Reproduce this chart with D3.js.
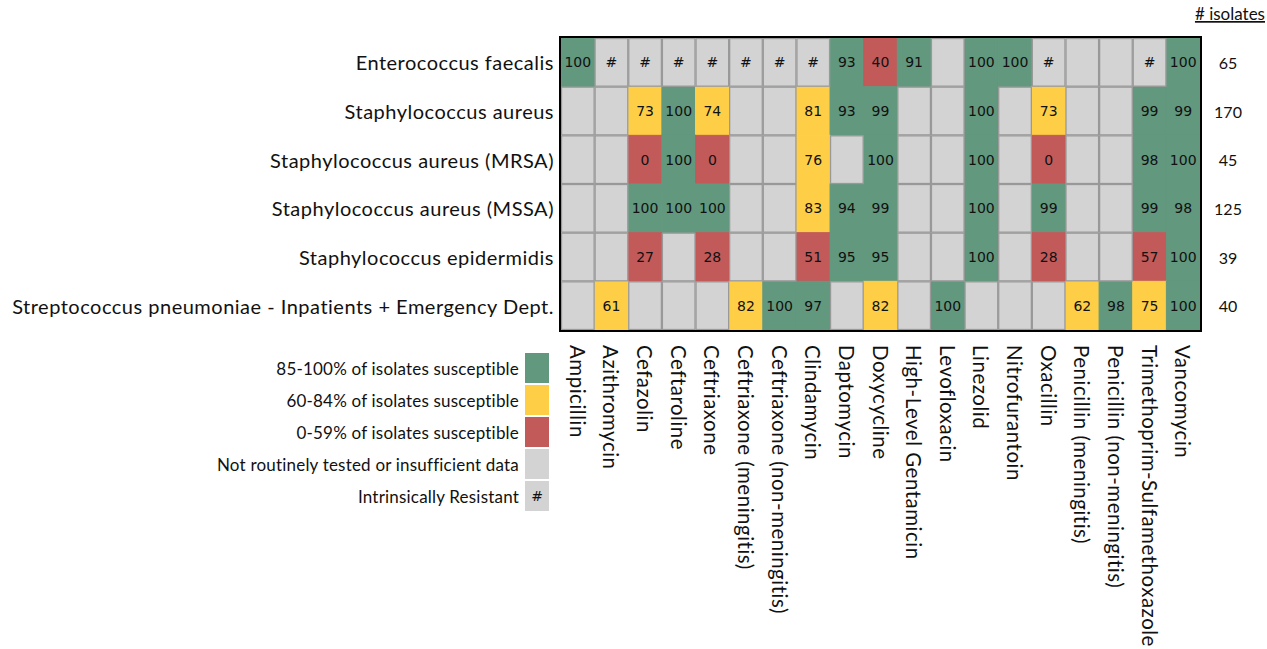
<!DOCTYPE html>
<html>
<head>
<meta charset="utf-8">
<script src="https://cdn.jsdelivr.net/npm/d3@7"></script>
<style>
  body { margin: 0; background: #fff; }
  text { font-family: Lato, "Noto Sans", sans-serif; fill: #111; }
  .cellText { font-family: "DejaVu Sans", sans-serif; font-size: 14px; fill: #111; letter-spacing: 0; }
</style>
</head>
<body>
<div id="chart"></div>
<script>
const organisms = [
    'Enterococcus faecalis',
    'Staphylococcus aureus',
    'Staphylococcus aureus (MRSA)',
    'Staphylococcus aureus (MSSA)',
    'Staphylococcus epidermidis',
    'Streptococcus pneumoniae - Inpatients + Emergency Dept.'
]

const antibiotics = [
    'Ampicillin', 'Azithromycin', 'Cefazolin', 'Ceftaroline', 'Ceftriaxone',
    'Ceftriaxone (meningitis)', 'Ceftriaxone (non-meningitis)', 'Clindamycin',
    'Daptomycin', 'Doxycycline', 'High-Level Gentamicin', 'Levofloxacin',
    'Linezolid', 'Nitrofurantoin', 'Oxacillin', 'Penicillin (meningitis)',
    'Penicillin (non-meningitis)', 'Trimethoprim-Sulfamethoxazole', 'Vancomycin'
]

const isolates = [65, 170, 45, 125, 39, 40]

// '#' = intrinsically resistant, null = not tested
const susceptibility = [
    [100, '#', '#', '#', '#', '#', '#', '#', 93, 40, 91, null, 100, 100, '#', null, null, '#', 100],
    [null, null, 73, 100, 74, null, null, 81, 93, 99, null, null, 100, null, 73, null, null, 99, 99],
    [null, null, 0, 100, 0, null, null, 76, null, 100, null, null, 100, null, 0, null, null, 98, 100],
    [null, null, 100, 100, 100, null, null, 83, 94, 99, null, null, 100, null, 99, null, null, 99, 98],
    [null, null, 27, null, 28, null, null, 51, 95, 95, null, null, 100, null, 28, null, null, 57, 100],
    [null, 61, null, null, null, 82, 100, 97, null, 82, null, 100, null, null, null, 62, 98, 75, 100]
]

const legendLabels = [
    '85-100% of isolates susceptible',
    '60-84% of isolates susceptible',
    '0-59% of isolates susceptible',
    'Not routinely tested or insufficient data',
    'Intrinsically Resistant'
]

const green = '#62987e', yellow = '#fecf46', red = '#c25a5a', grey = '#d3d3d3';
const legendColors = [green, yellow, red, grey, grey]

function cellColor(v) {
    if (v === null || v === '#') return grey;
    if (v >= 85) return green;
    if (v >= 60) return yellow;
    return red;
}

var svgwidth = 1267;
var svgheight = 649;

var svg = d3.select('#chart')
    .append('svg')
    .attr('width', svgwidth)
    .attr('height', svgheight)

var xscale = d3.scaleBand()
    .domain(antibiotics)
    .range([561, 1200]);

var yscale = d3.scaleBand()
    .domain(organisms)
    .range([38, 330]);

const cells = [];
organisms.forEach((org, i) => {
    antibiotics.forEach((ab, j) => {
        cells.push({ org: org, ab: ab, value: susceptibility[i][j] })
    })
})

const tested = cells.filter(d => d.value !== null && d.value !== '#');
const untested = cells.filter(d => d.value === null || d.value === '#');

// coloured cells first, grey ones on top so their borders stay visible
svg.append('g').selectAll('rect')
    .data(tested)
    .join('rect')
    .attr('x', d => xscale(d.ab))
    .attr('y', d => yscale(d.org))
    .attr('width', xscale.bandwidth())
    .attr('height', yscale.bandwidth())
    .attr('fill', d => cellColor(d.value))
    .attr('stroke', d => cellColor(d.value))
    .attr('stroke-width', 1);

svg.append('g').selectAll('rect')
    .data(untested)
    .join('rect')
    .attr('x', d => xscale(d.ab) + 0.5)
    .attr('y', d => yscale(d.org) + 0.5)
    .attr('width', xscale.bandwidth() - 1)
    .attr('height', yscale.bandwidth() - 1)
    .attr('fill', grey)
    .attr('stroke', '#999')
    .attr('stroke-width', 1.3);

svg.append('g').selectAll('text')
    .data(cells.filter(d => d.value !== null))
    .join('text')
    .attr('class', 'cellText')
    .attr('x', d => xscale(d.ab) + xscale.bandwidth() / 2)
    .attr('y', d => yscale(d.org) + yscale.bandwidth() / 2)
    .attr('text-anchor', 'middle')
    .attr('dominant-baseline', 'central')
    .text(d => d.value);

// outer frame
svg.append('rect')
    .attr('x', 560)
    .attr('y', 37)
    .attr('width', 641)
    .attr('height', 294)
    .attr('fill', 'none')
    .attr('stroke', '#000')
    .attr('stroke-width', 2);

// row labels
svg.append('g').selectAll('text')
    .data(organisms)
    .join('text')
    .attr('x', 554)
    .attr('y', d => yscale(d) + yscale.bandwidth() / 2)
    .attr('text-anchor', 'end')
    .attr('dominant-baseline', 'central')
    .style('font-size', '20px')
    .style('letter-spacing', '0.5px')
    .text(d => d);

// column labels
svg.append('g').selectAll('text')
    .data(antibiotics)
    .join('text')
    .attr('transform', d => `translate(${xscale(d) + xscale.bandwidth() / 2}, 345) rotate(90)`)
    .attr('text-anchor', 'start')
    .attr('dominant-baseline', 'central')
    .style('font-size', '20.5px')
    .style('letter-spacing', '0.5px')
    .text(d => d);

// isolate counts
svg.append('text')
    .attr('x', 1265)
    .attr('y', 20)
    .attr('text-anchor', 'end')
    .style('font-size', '17px')
    .style('text-decoration', 'underline')
    .text('# isolates');

svg.append('g').selectAll('text')
    .data(isolates)
    .join('text')
    .attr('x', 1228)
    .attr('y', (d, i) => yscale(organisms[i]) + yscale.bandwidth() / 2)
    .attr('text-anchor', 'middle')
    .attr('dominant-baseline', 'central')
    .style('font-size', '16px')
    .text(d => d);

// legend
var legend = svg.append('g');
legend.selectAll('rect')
    .data(legendLabels)
    .join('rect')
    .attr('x', 525)
    .attr('y', (d, i) => 353 + i * 32)
    .attr('width', 24)
    .attr('height', 30)
    .attr('fill', (d, i) => legendColors[i]);

legend.selectAll('text.lab')
    .data(legendLabels)
    .join('text')
    .attr('class', 'lab')
    .attr('x', 519)
    .attr('y', (d, i) => 353 + i * 32 + 15)
    .attr('text-anchor', 'end')
    .attr('dominant-baseline', 'central')
    .style('font-size', '17px')
    .style('letter-spacing', '0.2px')
    .text(d => d);

legend.append('text')
    .attr('class', 'cellText')
    .attr('x', 537)
    .attr('y', 353 + 4 * 32 + 15)
    .attr('text-anchor', 'middle')
    .attr('dominant-baseline', 'central')
    .text('#');
</script>
</body>
</html>
